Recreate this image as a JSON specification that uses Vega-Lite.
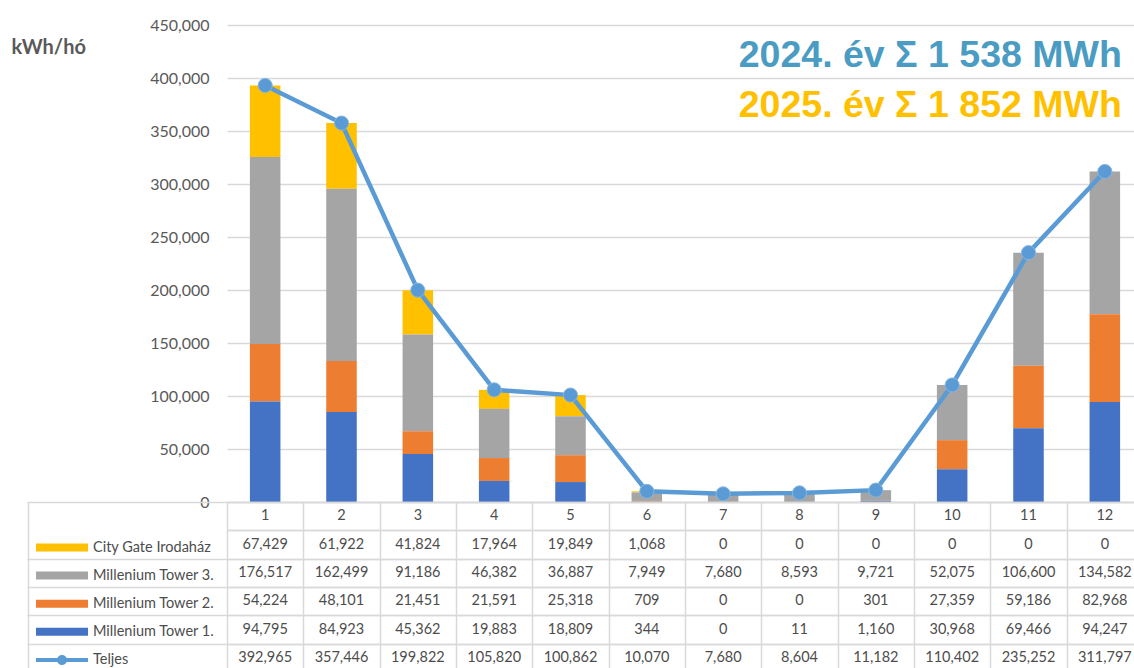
{
  "$schema": "https://vega.github.io/schema/vega-lite/v6.json",
  "padding": {"left": 11, "top": 17, "right": 0, "bottom": 0},
  "bounds": "flush",
  "spacing": 0,
  "background": "white",
  "config": {"view": {"stroke": null}, "font": "Lato"},
  "datasets": {
    "energy": [
      {"month": 1, "series": "City Gate Irodaház", "value": 67429},
      {"month": 1, "series": "Millenium Tower 3.", "value": 176517},
      {"month": 1, "series": "Millenium Tower 2.", "value": 54224},
      {"month": 1, "series": "Millenium Tower 1.", "value": 94795},
      {"month": 1, "series": "Teljes", "value": 392965},
      {"month": 2, "series": "City Gate Irodaház", "value": 61922},
      {"month": 2, "series": "Millenium Tower 3.", "value": 162499},
      {"month": 2, "series": "Millenium Tower 2.", "value": 48101},
      {"month": 2, "series": "Millenium Tower 1.", "value": 84923},
      {"month": 2, "series": "Teljes", "value": 357446},
      {"month": 3, "series": "City Gate Irodaház", "value": 41824},
      {"month": 3, "series": "Millenium Tower 3.", "value": 91186},
      {"month": 3, "series": "Millenium Tower 2.", "value": 21451},
      {"month": 3, "series": "Millenium Tower 1.", "value": 45362},
      {"month": 3, "series": "Teljes", "value": 199822},
      {"month": 4, "series": "City Gate Irodaház", "value": 17964},
      {"month": 4, "series": "Millenium Tower 3.", "value": 46382},
      {"month": 4, "series": "Millenium Tower 2.", "value": 21591},
      {"month": 4, "series": "Millenium Tower 1.", "value": 19883},
      {"month": 4, "series": "Teljes", "value": 105820},
      {"month": 5, "series": "City Gate Irodaház", "value": 19849},
      {"month": 5, "series": "Millenium Tower 3.", "value": 36887},
      {"month": 5, "series": "Millenium Tower 2.", "value": 25318},
      {"month": 5, "series": "Millenium Tower 1.", "value": 18809},
      {"month": 5, "series": "Teljes", "value": 100862},
      {"month": 6, "series": "City Gate Irodaház", "value": 1068},
      {"month": 6, "series": "Millenium Tower 3.", "value": 7949},
      {"month": 6, "series": "Millenium Tower 2.", "value": 709},
      {"month": 6, "series": "Millenium Tower 1.", "value": 344},
      {"month": 6, "series": "Teljes", "value": 10070},
      {"month": 7, "series": "City Gate Irodaház", "value": 0},
      {"month": 7, "series": "Millenium Tower 3.", "value": 7680},
      {"month": 7, "series": "Millenium Tower 2.", "value": 0},
      {"month": 7, "series": "Millenium Tower 1.", "value": 0},
      {"month": 7, "series": "Teljes", "value": 7680},
      {"month": 8, "series": "City Gate Irodaház", "value": 0},
      {"month": 8, "series": "Millenium Tower 3.", "value": 8593},
      {"month": 8, "series": "Millenium Tower 2.", "value": 0},
      {"month": 8, "series": "Millenium Tower 1.", "value": 11},
      {"month": 8, "series": "Teljes", "value": 8604},
      {"month": 9, "series": "City Gate Irodaház", "value": 0},
      {"month": 9, "series": "Millenium Tower 3.", "value": 9721},
      {"month": 9, "series": "Millenium Tower 2.", "value": 301},
      {"month": 9, "series": "Millenium Tower 1.", "value": 1160},
      {"month": 9, "series": "Teljes", "value": 11182},
      {"month": 10, "series": "City Gate Irodaház", "value": 0},
      {"month": 10, "series": "Millenium Tower 3.", "value": 52075},
      {"month": 10, "series": "Millenium Tower 2.", "value": 27359},
      {"month": 10, "series": "Millenium Tower 1.", "value": 30968},
      {"month": 10, "series": "Teljes", "value": 110402},
      {"month": 11, "series": "City Gate Irodaház", "value": 0},
      {"month": 11, "series": "Millenium Tower 3.", "value": 106600},
      {"month": 11, "series": "Millenium Tower 2.", "value": 59186},
      {"month": 11, "series": "Millenium Tower 1.", "value": 69466},
      {"month": 11, "series": "Teljes", "value": 235252},
      {"month": 12, "series": "City Gate Irodaház", "value": 0},
      {"month": 12, "series": "Millenium Tower 3.", "value": 134582},
      {"month": 12, "series": "Millenium Tower 2.", "value": 82968},
      {"month": 12, "series": "Millenium Tower 1.", "value": 94247},
      {"month": 12, "series": "Teljes", "value": 311797}
    ]
  },
  "resolve": {
    "scale": {"color": "independent", "x": "independent", "y": "independent"},
    "legend": {"color": "independent"}
  },
  "vconcat": [
    {
      "width": 916,
      "height": 477,
      "data": {"name": "energy"},
      "encoding": {
        "x": {
          "field": "month",
          "type": "ordinal",
          "scale": {"domain": [1, 2, 3, 4, 5, 6, 7, 8, 9, 10, 11, 12], "paddingInner": 0, "paddingOuter": 0},
          "axis": null
        }
      },
      "layer": [
        {
          "transform": [
            {"filter": "datum.series !== 'Teljes'"},
            {"calculate": "indexof(['Millenium Tower 1.', 'Millenium Tower 2.', 'Millenium Tower 3.', 'City Gate Irodaház'], datum.series)", "as": "ord"}
          ],
          "mark": {"type": "bar", "width": {"band": 0.4}},
          "encoding": {
            "y": {
              "field": "value",
              "type": "quantitative",
              "stack": "zero",
              "scale": {"domain": [0, 450000], "nice": false},
              "axis": {
                "values": [0, 50000, 100000, 150000, 200000, 250000, 300000, 350000, 400000, 450000],
                "labelExpr": "format(datum.value, ',')",
                "labelFont": "Lato",
                "labelFontSize": 16,
                "labelColor": "#595959",
                "labelPadding": 18,
                "ticks": false,
                "domain": false,
                "gridColor": "#d9d9d9",
                "gridWidth": 1.3,
                "title": "kWh/hó",
                "titleAngle": 0,
                "titleAlign": "left",
                "titleBaseline": "alphabetic",
                "titleX": -216,
                "titleY": 28,
                "titleFont": "Lato",
                "titleFontSize": 20,
                "titleFontWeight": "bold",
                "titleColor": "#595959"
              }
            },
            "color": {
              "field": "series",
              "type": "nominal",
              "scale": {
                "domain": ["City Gate Irodaház", "Millenium Tower 3.", "Millenium Tower 2.", "Millenium Tower 1."],
                "range": ["#FFC000", "#A5A5A5", "#ED7D31", "#4472C4"]
              },
              "legend": null
            },
            "order": {"field": "ord", "type": "quantitative"}
          }
        },
        {
          "transform": [{"filter": "datum.series === 'Teljes'"}],
          "mark": {"type": "line", "color": "#5B9BD5", "strokeWidth": 4.5},
          "encoding": {"y": {"field": "value", "type": "quantitative"}}
        },
        {
          "transform": [{"filter": "datum.series === 'Teljes'"}],
          "mark": {"type": "point", "filled": true, "size": 200, "color": "#5B9BD5", "opacity": 1, "stroke": "#86b6e2", "strokeWidth": 1},
          "encoding": {"y": {"field": "value", "type": "quantitative"}}
        },
        {
          "data": {"values": [{}]},
          "mark": {"type": "text", "text": "2024. év Σ 1 538 MWh", "font": "Liberation Sans", "fontWeight": "bold", "fontSize": 37.5, "color": "#4B9CC3", "align": "right", "baseline": "alphabetic", "dx": 17},
          "encoding": {"x": {"datum": 12, "type": "ordinal"}, "y": {"datum": 410000, "type": "quantitative"}}
        },
        {
          "data": {"values": [{}]},
          "mark": {"type": "text", "text": "2025. év Σ 1 852 MWh", "font": "Liberation Sans", "fontWeight": "bold", "fontSize": 37.5, "color": "#FFC000", "align": "right", "baseline": "alphabetic", "dx": 17},
          "encoding": {"x": {"datum": 12, "type": "ordinal"}, "y": {"datum": 363000, "type": "quantitative"}}
        }
      ]
    },
    {
      "width": 916,
      "height": 170,
      "data": {"name": "energy"},
      "resolve": {"axis": {"y": "independent"}},
      "encoding": {
        "x": {
          "field": "month",
          "type": "ordinal",
          "scale": {"domain": [1, 2, 3, 4, 5, 6, 7, 8, 9, 10, 11, 12], "paddingInner": 0, "paddingOuter": 0},
          "axis": {"labels": false, "ticks": false, "domain": false, "grid": true, "tickBand": "extent", "gridColor": "#d9d9d9", "gridWidth": 1.5, "title": null}
        },
        "y": {
          "field": "series",
          "type": "nominal",
          "scale": {
            "domain": ["header", "City Gate Irodaház", "Millenium Tower 3.", "Millenium Tower 2.", "Millenium Tower 1.", "Teljes"],
            "paddingInner": 0,
            "paddingOuter": 0
          },
          "axis": {
            "labels": false,
            "domain": false,
            "ticks": true,
            "tickSize": 200,
            "tickBand": "extent",
            "tickColor": {"condition": {"test": "datum.value === 'header'", "value": "transparent"}, "value": "#d9d9d9"},
            "tickWidth": 1.5,
            "grid": true,
            "gridColor": "#d9d9d9",
            "gridWidth": 1.5,
            "title": null
          }
        }
      },
      "layer": [
        {
          "mark": {"type": "text", "font": "Lato", "fontSize": 14.5, "color": "#4d4d4d"},
          "encoding": {"text": {"field": "value", "type": "quantitative", "format": ","}}
        },
        {
          "transform": [{"filter": "datum.series === 'Teljes'"}],
          "mark": {"type": "text", "font": "Lato", "fontSize": 14.5, "color": "#4d4d4d"},
          "encoding": {"y": {"datum": "header", "type": "nominal"}, "text": {"field": "month", "type": "ordinal"}}
        },
        {
          "mark": {"type": "point", "filled": true, "opacity": 0},
          "encoding": {
            "y": {
              "field": "series",
              "type": "nominal",
              "axis": {"orient": "left", "offset": 199, "labels": false, "ticks": false, "grid": false, "domain": true, "domainColor": "#d9d9d9", "domainWidth": 1.5, "title": null}
            },
            "color": {
              "field": "series",
              "type": "nominal",
              "scale": {
                "domain": ["City Gate Irodaház", "Millenium Tower 3.", "Millenium Tower 2.", "Millenium Tower 1.", "Teljes"],
                "range": ["#FFC000", "#A5A5A5", "#ED7D31", "#4472C4", "#5B9BD5"]
              },
              "legend": {
                "orient": "none",
                "legendX": -175,
                "legendY": 35.5,
                "title": null,
                "direction": "vertical",
                "labelFont": "Lato",
                "labelFontSize": 14.5,
                "labelColor": "#4d4d4d",
                "labelOffset": 21,
                "labelLimit": 200,
                "rowPadding": 11.1,
                "symbolSize": 400,
                "symbolOpacity": 1,
                "symbolStrokeWidth": 0,
                "symbolType": "M-2.6,-0.4H2.6V0.4H-2.6Z",
                "encode": {
                  "symbols": {
                    "update": {
                      "shape": {"signal": "datum.value === 'Teljes' ? 'M-2.6,-0.2H2.6V0.2H-2.6Z M-0.5,0A0.5,0.5 0 1,1 0.5,0A0.5,0.5 0 1,1 -0.5,0Z' : 'M-2.6,-0.4H2.6V0.4H-2.6Z'"}
                    }
                  }
                }
              }
            }
          }
        }
      ]
    }
  ]
}
